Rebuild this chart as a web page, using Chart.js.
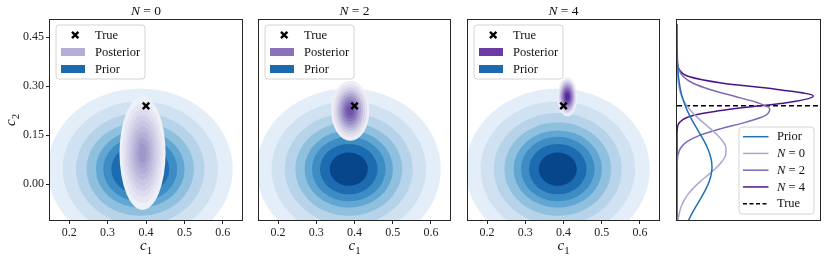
<!DOCTYPE html>
<html>
<head>
<meta charset="utf-8">
<script src="https://cdn.jsdelivr.net/npm/chart.js@4.4.1/dist/chart.umd.min.js"></script>
<style>
  html, body { margin: 0; padding: 0; background: #fff; }
  #wrap { position: relative; width: 830px; height: 261px; }
  canvas { position: absolute; top: 0; }
</style>
</head>
<body>
<div id="wrap">
  <canvas id="p0" width="250" height="261" style="left:0px"></canvas>
  <canvas id="p1" width="208" height="261" style="left:250px"></canvas>
  <canvas id="p2" width="210" height="261" style="left:458px"></canvas>
  <canvas id="p3" width="162" height="261" style="left:668px"></canvas>
</div>
<script>
// ---- data ----
const c1Ticks = [0.2, 0.3, 0.4, 0.5, 0.6];
const c2Ticks = [0.0, 0.15, 0.30, 0.45];
const c1Range = [0.15, 0.65];
const c2Range = [-0.11, 0.503];
const trueParams = [0.40, 0.24];
const nValues = ['0', '2', '4'];

// prior contours: centre, outer semi-axes, ring sizes relative to outer
const priorCenter = [0.385, 0.046];
const priorSemi = [0.241, 0.247];
const priorRings = [1, 0.84, 0.695, 0.58, 0.48, 0.40, 0.313, 0.207];

// posterior contours for N = 0, 2, 4
const postCenters = [[0.391, 0.095], [0.389, 0.225], [0.410, 0.268]];
const postSemi = [[0.060, 0.174], [0.050, 0.092], [0.026, 0.060]];
const postRings = [1, 0.88, 0.77, 0.67, 0.57, 0.47, 0.37, 0.27, 0.17];

// marginal densities of c2 (right panel)
const c2Grid = [-0.11, -0.09, -0.07, -0.05, -0.03, -0.01, 0.01, 0.03, 0.05, 0.07, 0.09,
  0.11, 0.13, 0.15, 0.17, 0.19, 0.21, 0.23, 0.25, 0.27, 0.29, 0.31, 0.33, 0.35, 0.37,
  0.39, 0.41, 0.43, 0.45, 0.47, 0.49];
const priorDensity = [1.06, 1.37, 1.70, 2.05, 2.39, 2.70, 2.95, 3.11, 3.18, 3.14, 3.00,
  2.78, 2.49, 2.16, 1.81, 1.47, 1.15, 0.87, 0.64, 0.45, 0.31, 0.21, 0.13, 0.08, 0.05,
  0.03, 0.02, 0.01, 0.005, 0, 0];
const n0Density = [0.10, 0.20, 0.37, 0.64, 1.03, 1.55, 2.19, 2.89, 3.57, 4.11, 4.43,
  4.46, 4.19, 3.69, 3.03, 2.33, 1.67, 1.12, 0.71, 0.41, 0.23, 0.12, 0.06, 0.03, 0.01,
  0, 0, 0, 0, 0, 0];
const n2Density = [0, 0, 0, 0, 0, 0, 0, 0, 0, 0.02, 0.09,
  0.32, 0.91, 2.11, 4.02, 6.27, 8.02, 8.43, 7.27, 5.14, 2.98, 1.42, 0.56, 0.18, 0.05,
  0.01, 0, 0, 0, 0, 0];
const n4Density = [0, 0, 0, 0, 0, 0, 0, 0, 0, 0, 0,
  0, 0, 0, 0.03, 0.26, 1.46, 4.95, 10.11, 12.40, 9.12, 4.04, 1.07, 0.23, 0.02,
  0, 0, 0, 0, 0, 0];
const densityMax = 13;

// ---- styles ----
const SERIF = '"Liberation Serif", "DejaVu Serif", serif';
const priorColors = ['#e4eef9', '#d0e1f2', '#b6d3e9', '#8fc1de', '#62a7d3', '#3d8cc4', '#1d6cb1', '#08468b'];
const postColors = [
  ['#eef0f7', '#e5e6f2', '#dcdcee', '#d2d1e8', '#c8c6e2', '#bdbbdc', '#b3afd6', '#a8a4d0', '#9e99ca'],
  ['#efeef6', '#e2e0ef', '#d3d0e7', '#c2bddd', '#aea7d2', '#9b8fc6', '#8b78bc', '#7d64b2', '#7153a9'],
  ['#f1eff7', '#e1dcee', '#cdc4e3', '#b7a9d6', '#a08cc8', '#8a70ba', '#7556ad', '#623f9f', '#542c93']
];
const postPatch = ['#b2aed6', '#8a71ba', '#6b3aa2'];
const priorPatch = '#1d69af';
const lineColors = { prior: '#2171b5', n0: '#ada6d4', n2: '#7f68b5', n4: '#4b1589' };
const canvasPads = [{ top: 20, right: 8 }, { top: 20, left: 9, right: 8 }, { top: 20, left: 10, right: 9 }];

function drawRich(ctx, parts, x, y, size, align) {
  const fontOf = p => (p.italic ? 'italic ' : '') + (p.sub ? size * 0.72 : size) + 'px ' + SERIF;
  let w = 0;
  parts.forEach(p => { ctx.font = fontOf(p); w += ctx.measureText(p.t).width; });
  let cx = align === 'center' ? x - w / 2 : x;
  ctx.textAlign = 'left';
  parts.forEach(p => {
    ctx.font = fontOf(p);
    ctx.fillText(p.t, cx, y + (p.sub ? size * 0.28 : 0));
    cx += ctx.measureText(p.t).width;
  });
}

function roundBox(ctx, x, y, w, h, r) {
  ctx.beginPath();
  ctx.moveTo(x + r, y);
  ctx.arcTo(x + w, y, x + w, y + h, r);
  ctx.arcTo(x + w, y + h, x, y + h, r);
  ctx.arcTo(x, y + h, x, y, r);
  ctx.arcTo(x, y, x + w, y, r);
  ctx.closePath();
  ctx.fillStyle = 'rgba(255,255,255,0.85)';
  ctx.fill();
  ctx.strokeStyle = '#d4d4d4';
  ctx.lineWidth = 1;
  ctx.stroke();
}

const framePlugin = {
  id: 'frame',
  afterDraw(chart) {
    const { ctx, chartArea: a } = chart;
    ctx.save();
    ctx.strokeStyle = '#262626';
    ctx.lineWidth = 1;
    ctx.strokeRect(Math.round(a.left) - 0.5, Math.round(a.top) - 0.5, Math.round(a.width) + 1, Math.round(a.height) + 1);
    ctx.restore();
  }
};

function contourPlugin(k) {
  const layers = [
    { center: priorCenter, semi: priorSemi, rings: priorRings, colors: priorColors },
    { center: postCenters[k], semi: postSemi[k], rings: postRings, colors: postColors[k] }
  ];
  return {
    id: 'contours',
    beforeDatasetsDraw(chart) {
      const { ctx, chartArea: a, scales: { x, y } } = chart;
      ctx.save();
      ctx.beginPath();
      ctx.rect(a.left, a.top, a.width, a.height);
      ctx.clip();
      layers.forEach(layer => {
        const cx = x.getPixelForValue(layer.center[0]);
        const cy = y.getPixelForValue(layer.center[1]);
        layer.rings.forEach((f, i) => {
          const rx = Math.abs(x.getPixelForValue(layer.center[0] + layer.semi[0] * f) - cx);
          const ry = Math.abs(y.getPixelForValue(layer.center[1] + layer.semi[1] * f) - cy);
          ctx.beginPath();
          ctx.ellipse(cx, cy, rx, ry, 0, 0, Math.PI * 2);
          ctx.fillStyle = layer.colors[i];
          ctx.fill();
        });
      });
      ctx.restore();
    }
  };
}

function textPlugin(k) {
  return {
    id: 'texts',
    afterDraw(chart) {
      const { ctx, chartArea: a } = chart;
      const mid = (a.left + a.right) / 2;
      ctx.save();
      ctx.fillStyle = '#111';
      ctx.textBaseline = 'alphabetic';
      drawRich(ctx, [{ t: 'N', italic: true }, { t: ' = ' + nValues[k] }], mid, 15, 13.5, 'center');
      drawRich(ctx, [{ t: 'c', italic: true }, { t: '1', sub: true }], mid, 250, 15, 'center');
      if (k === 0) {
        ctx.save();
        ctx.translate(15, (a.top + a.bottom) / 2);
        ctx.rotate(-Math.PI / 2);
        drawRich(ctx, [{ t: 'c', italic: true }, { t: '2', sub: true }], 0, 0, 15, 'center');
        ctx.restore();
      }
      // legend
      const bx = a.left + 6, by = a.top + 5;
      roundBox(ctx, bx, by, 89, 54, 3);
      const rows = [by + 10, by + 27, by + 44];
      ctx.strokeStyle = '#000';
      ctx.lineWidth = 2.4;
      ctx.beginPath();
      ctx.moveTo(bx + 16, rows[0] - 3.2); ctx.lineTo(bx + 22.4, rows[0] + 3.2);
      ctx.moveTo(bx + 16, rows[0] + 3.2); ctx.lineTo(bx + 22.4, rows[0] - 3.2);
      ctx.stroke();
      ctx.fillStyle = postPatch[k];
      ctx.fillRect(bx + 5, rows[1] - 4, 24, 8);
      ctx.fillStyle = priorPatch;
      ctx.fillRect(bx + 5, rows[2] - 4, 24, 8);
      ctx.fillStyle = '#111';
      ctx.font = '12.5px ' + SERIF;
      ctx.textBaseline = 'middle';
      ctx.fillText('True', bx + 39, rows[0] + 0.5);
      ctx.fillText('Posterior', bx + 39, rows[1] + 0.5);
      ctx.fillText('Prior', bx + 39, rows[2] + 0.5);
      ctx.restore();
    }
  };
}

const tickGrid = { display: true, drawOnChartArea: false, drawTicks: true, tickLength: 4, color: '#262626' };
const tickFont = { family: SERIF, size: 12 };

function contourChart(k) {
  return new Chart(document.getElementById('p' + k), {
    type: 'scatter',
    data: {
      datasets: [{
        data: [{ x: trueParams[0], y: trueParams[1] }],
        pointStyle: 'crossRot',
        radius: 4.6,
        borderWidth: 2.4,
        borderColor: '#000',
        backgroundColor: '#000'
      }]
    },
    options: {
      responsive: false,
      animation: false,
      events: [],
      layout: { padding: canvasPads[k] },
      plugins: { legend: { display: false }, tooltip: { enabled: false } },
      scales: {
        x: {
          type: 'linear', min: c1Range[0], max: c1Range[1],
          afterBuildTicks: s => { s.ticks = c1Ticks.map(v => ({ value: v })); },
          afterFit: s => { s.height = 41; },
          grid: tickGrid, border: { display: false },
          ticks: { font: tickFont, color: '#222', padding: 2, maxRotation: 0, callback: v => v.toFixed(1) }
        },
        y: {
          type: 'linear', min: c2Range[0], max: c2Range[1], display: k === 0,
          afterBuildTicks: s => { s.ticks = c2Ticks.map(v => ({ value: v })); },
          afterFit: s => { s.width = k === 0 ? 50 : 0; },
          grid: tickGrid, border: { display: false },
          ticks: { font: tickFont, color: '#222', padding: 2, callback: v => v.toFixed(2) }
        }
      }
    },
    plugins: [contourPlugin(k), framePlugin, textPlugin(k)]
  });
}

[0, 1, 2].forEach(contourChart);

// ---- marginal density panel ----
const pts = arr => arr.map((d, i) => ({ x: d, y: c2Grid[i] }));
const curve = (label, arr, color) => ({
  label, data: pts(arr), borderColor: color, borderWidth: 1.5,
  pointRadius: 0, cubicInterpolationMode: 'monotone', fill: false
});

const densityLegend = {
  id: 'densityLegend',
  afterDraw(chart) {
    const { ctx, chartArea: a } = chart;
    const bw = 75, bh = 87;
    const bx = a.right - 6 - bw, by = a.bottom - 6 - bh;
    ctx.save();
    roundBox(ctx, bx, by, bw, bh, 3);
    const items = [
      { parts: [{ t: 'Prior' }], color: lineColors.prior },
      { parts: [{ t: 'N', italic: true }, { t: ' = 0' }], color: lineColors.n0 },
      { parts: [{ t: 'N', italic: true }, { t: ' = 2' }], color: lineColors.n2 },
      { parts: [{ t: 'N', italic: true }, { t: ' = 4' }], color: lineColors.n4 },
      { parts: [{ t: 'True' }], color: '#000', dash: [4, 2.5] }
    ];
    items.forEach((it, i) => {
      const yy = by + 9.7 + i * 16.75;
      ctx.strokeStyle = it.color;
      ctx.lineWidth = 1.5;
      ctx.setLineDash(it.dash || []);
      ctx.beginPath();
      ctx.moveTo(bx + 4, yy);
      ctx.lineTo(bx + 29.5, yy);
      ctx.stroke();
      ctx.setLineDash([]);
      ctx.fillStyle = '#111';
      ctx.textBaseline = 'middle';
      drawRich(ctx, it.parts, bx + 38, yy + 0.5, 12.5, 'left');
    });
    ctx.restore();
  }
};

new Chart(document.getElementById('p3'), {
  type: 'line',
  data: {
    datasets: [
      curve('Prior', priorDensity, lineColors.prior),
      curve('N = 0', n0Density, lineColors.n0),
      curve('N = 2', n2Density, lineColors.n2),
      curve('N = 4', n4Density, lineColors.n4),
      {
        label: 'True',
        data: [{ x: 0, y: trueParams[1] }, { x: densityMax, y: trueParams[1] }],
        borderColor: '#000', borderWidth: 1.5, borderDash: [5, 3], pointRadius: 0, tension: 0
      }
    ]
  },
  options: {
    responsive: false,
    animation: false,
    events: [],
    indexAxis: 'y',
    layout: { padding: { top: 20, left: 9, right: 10, bottom: 41 } },
    plugins: { legend: { display: false }, tooltip: { enabled: false } },
    scales: {
      x: { type: 'linear', min: 0, max: densityMax, display: false },
      y: { type: 'linear', min: c2Range[0], max: c2Range[1], display: false }
    }
  },
  plugins: [framePlugin, densityLegend]
});
</script>
</body>
</html>
